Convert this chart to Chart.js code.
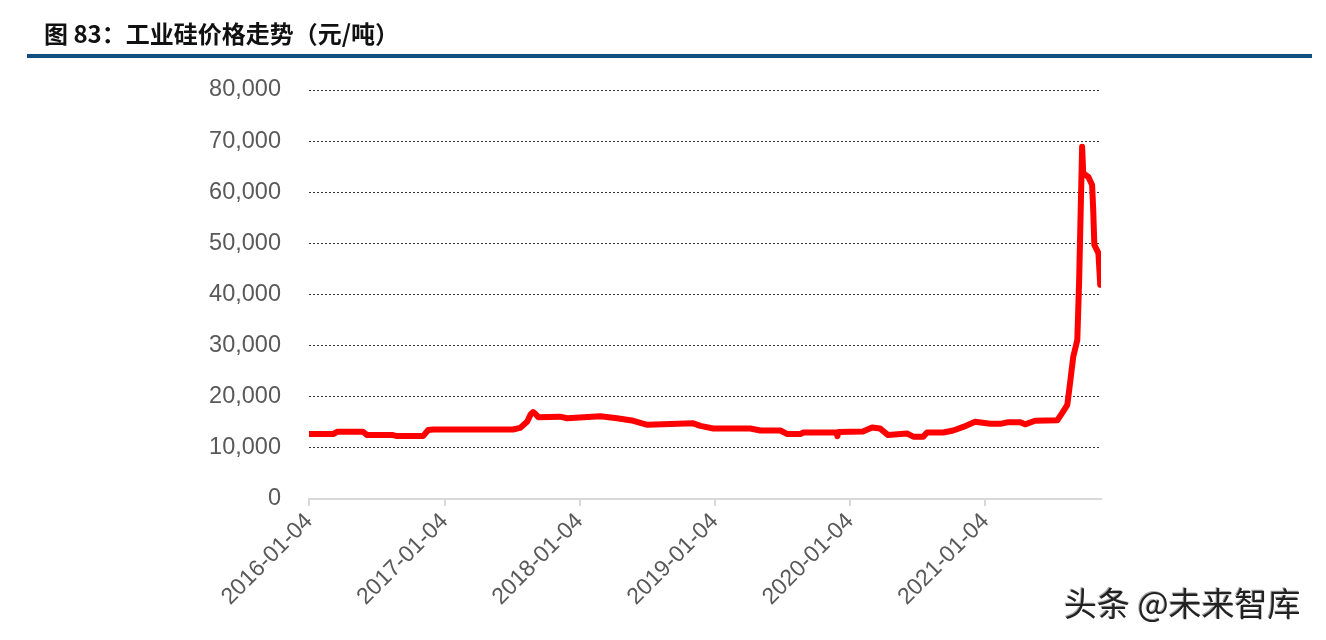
<!DOCTYPE html>
<html>
<head>
<meta charset="utf-8">
<script src="https://cdn.jsdelivr.net/npm/chart.js@4/dist/chart.umd.min.js"></script>
<style>
  html, body { margin: 0; padding: 0; background: #fff; }
  #wrap { position: relative; width: 1326px; height: 640px; overflow: hidden; }
  #title { position: absolute; left: 44px; top: 17px; font-family: "Noto Sans CJK SC", "Liberation Sans", sans-serif; font-weight: bold; font-size: 24px; color: #111; white-space: nowrap; line-height: 32px; }
  #rule { position: absolute; left: 27px; top: 54px; width: 1285px; height: 4px; background: #124e82; }
  #wm { position: absolute; left: 1064px; top: 581px; font-family: "Noto Sans CJK SC", sans-serif; font-size: 33px; color: #222; white-space: nowrap; text-shadow: 1px 1px 0 #fff, -1px -1px 0 #aaa; line-height: 42px; }
  canvas { position: absolute; left: 0; top: 0; }
</style>
</head>
<body>
<div id="wrap">
  <canvas id="c" width="1326" height="640"></canvas>
  <div id="title">图 83：工业硅价格走势（元/吨）</div>
  <div id="rule"></div>
  <div id="wm">头条 @未来智库</div>
</div>
<script>
const dates = [
  '2016-01-04','2016-03-09','2016-03-20','2016-05-29','2016-06-09','2016-08-18','2016-08-29','2016-11-07',
  '2016-11-21','2016-12-04','2017-07-08','2017-07-27','2017-08-15','2017-08-25','2017-08-31','2017-09-06','2017-09-14',
  '2017-11-12','2017-12-01','2018-03-01','2018-04-15','2018-05-29','2018-07-06','2018-11-07','2018-11-26',
  '2018-12-31','2019-04-10','2019-05-07','2019-06-30','2019-07-19','2019-08-23','2019-08-31','2019-11-04',
  '2019-11-28','2019-12-01','2019-12-04','2020-02-08','2020-03-04','2020-03-25','2020-04-16','2020-06-06',
  '2020-06-23','2020-07-20','2020-07-30','2020-09-12','2020-10-09','2020-11-05','2020-12-07','2021-01-17',
  '2021-02-13','2021-03-04','2021-04-08','2021-04-21','2021-05-18','2021-07-17','2021-07-30','2021-08-13',
  '2021-08-21','2021-08-29','2021-09-09','2021-09-14','2021-09-22','2021-09-25','2021-10-09','2021-10-19',
  '2021-10-22','2021-10-25','2021-11-05','2021-11-10'
];
const prices = [
  12700,12700,13150,13150,12500,12500,12300,12300,
  13500,13600,13600,13900,15100,16600,17000,16700,16000,
  16100,15800,16200,15800,15300,14500,14800,14300,
  13800,13800,13400,13400,12700,12700,13000,13000,
  13000,12300,13100,13200,14000,13800,12500,12800,
  12200,12200,13000,13000,13400,14100,15100,14700,
  14700,15000,15000,14600,15300,15400,16800,18400,
  23000,27800,31100,42800,68900,63700,63000,61400,
  56500,49700,48100,41900
];
const tickLabels = ['2016-01-04','2017-01-04','2018-01-04','2019-01-04','2020-01-04','2021-01-04'];
const yTicks = [0,10000,20000,30000,40000,50000,60000,70000,80000];
const axisEnd = '2021-11-12';

const origin = Date.UTC(2016, 0, 4);
function dayOf(s) { const p = s.split('-').map(Number); return (Date.UTC(p[0], p[1]-1, p[2]) - origin) / 86400000; }
const points = dates.map((d, i) => ({ x: dayOf(d), y: prices[i] }));
const tickMap = {};
tickLabels.forEach(t => { tickMap[dayOf(t)] = t; });

new Chart(document.getElementById('c'), {
  type: 'line',
  data: { datasets: [{ data: points, borderColor: '#ff0000', borderWidth: 6, pointRadius: 0, tension: 0,
    borderCapStyle: 'round', borderJoinStyle: 'round', fill: false }] },
  options: {
    responsive: false, animation: false,
    layout: { padding: { left: 0, right: 225, top: 90, bottom: 0 } },
    plugins: { legend: { display: false }, tooltip: { enabled: false } },
    scales: {
      x: {
        type: 'linear', min: 0, max: dayOf(axisEnd),
        afterBuildTicks: s => { s.ticks = tickLabels.map(t => ({ value: dayOf(t) })); },
        afterFit: s => { s.height = 141; },
        ticks: { autoSkip: false, minRotation: 45, maxRotation: 45, padding: 2, color: '#595959',
          font: { family: 'Liberation Sans, Arial, sans-serif', size: 23 },
          callback: v => tickMap[v] || '' },
        grid: { drawOnChartArea: false, drawTicks: true, tickLength: 7, color: '#d9d9d9', lineWidth: 2 },
        border: { display: true, color: '#d9d9d9', width: 2 }
      },
      y: {
        min: 0, max: 80000,
        afterBuildTicks: s => { s.ticks = yTicks.map(v => ({ value: v })); },
        afterFit: s => { s.width = 309; },
        ticks: { padding: 28, color: '#595959', font: { family: 'Liberation Sans, Arial, sans-serif', size: 23.5 },
          callback: v => v.toLocaleString('en-US') },
        grid: { drawTicks: false, color: c => c.tick && c.tick.value === 0 ? 'rgba(0,0,0,0)' : '#333', lineWidth: 1 },
        border: { display: false, dash: [2, 2] }
      }
    }
  }
});
</script>
</body>
</html>
